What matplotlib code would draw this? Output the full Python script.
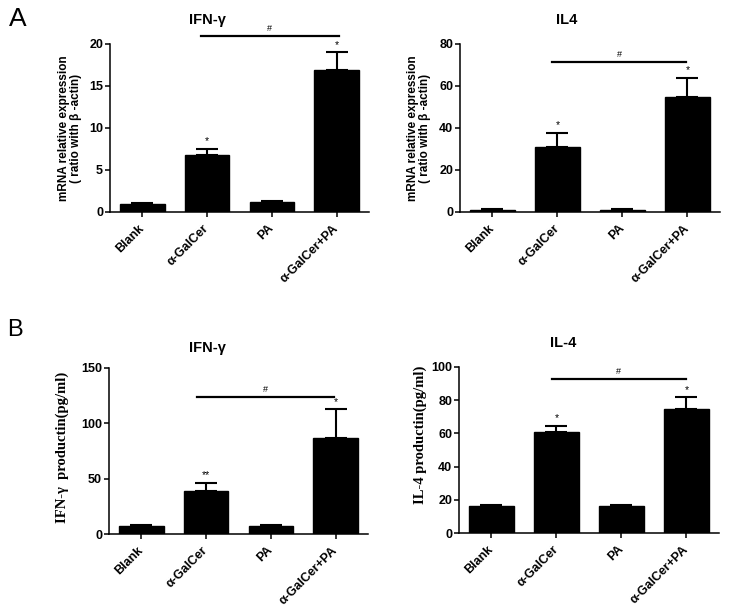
import matplotlib
matplotlib.use('Agg')
import matplotlib.pyplot as plt

plt.rcParams['font.family'] = ['Liberation Sans', 'DejaVu Sans']

# 数据
groups = ['Blank', 'α-GalCer', 'PA', 'α-GalCer+PA']

a_ifn_mean = [1.0, 6.8, 1.2, 16.9]
a_ifn_top = [1.05, 7.5, 1.35, 19.0]
a_il4_mean = [1.0, 31.0, 1.0, 54.7]
a_il4_top = [1.2, 37.8, 1.2, 63.8]
b_ifn_mean = [7.0, 39.0, 7.0, 87.0]
b_ifn_top = [8.5, 46.5, 8.5, 112.5]
b_il4_mean = [16.0, 61.0, 16.0, 74.8]
b_il4_top = [16.8, 64.6, 17.0, 81.7]

a_ifn_stars = ['', '*', '', '*']
a_il4_stars = ['', '*', '', '*']
b_ifn_stars = ['', '**', '', '*']
b_il4_stars = ['', '*', '', '*']

fig = plt.figure(figsize=(7.32, 6.15), dpi=100)


def draw_panel(rect, mean, top, stars, ymax, ystep, title, title_x, title_y,
               ylabel, ylabel_font, ylabel_size, ylabel_pos, sig):
    ax = fig.add_axes(rect)
    x = range(len(groups))
    err = [[0] * len(mean), [t - m for t, m in zip(top, mean)]]
    ax.bar(x, mean, width=0.69, color='black', edgecolor='black',
           yerr=err, capsize=8, error_kw=dict(elinewidth=1.5, capthick=1.5, ecolor='black'))
    for i, s in enumerate(stars):
        if s:
            ax.annotate(s, (i, top[i]), xytext=(0, 2), textcoords='offset points',
                        ha='center', va='bottom', fontsize=7.5)
    ax.set_xlim(-0.5, 3.5)
    ax.set_ylim(0, ymax)
    ax.set_yticks(range(0, ymax + 1, ystep))
    ax.set_xticks(list(x))
    ax.set_xticklabels(groups, rotation=45, ha='right', va='center', rotation_mode='anchor',
                       fontsize=9, fontweight='bold')
    for lab in ax.get_yticklabels():
        lab.set_fontsize(9)
        lab.set_fontweight('bold')
    ax.spines['top'].set_visible(False)
    ax.spines['right'].set_visible(False)
    ax.spines['left'].set_linewidth(1.1)
    ax.spines['bottom'].set_linewidth(1.1)
    ax.tick_params(axis='both', length=3.5, width=1.1)
    ax.tick_params(axis='y', pad=1.5)
    ax.tick_params(axis='x', pad=7)
    ax.set_ylabel(ylabel, fontsize=ylabel_size, family=ylabel_font,
                  fontweight='bold', linespacing=1.0)
    ax.yaxis.set_label_coords(*ylabel_pos)
    fig.text(title_x, title_y, title, ha='center', va='center',
             fontsize=10.5, fontweight='bold')
    # 显著性横线
    x0, x1, ysig = sig
    ax.plot([x0, x1], [ysig, ysig], color='black', lw=1.6, clip_on=False)
    ax.annotate('#', ((x0 + x1) / 2, ysig), xytext=(0, 2), textcoords='offset points',
                ha='center', va='bottom', fontsize=6.5, annotation_clip=False)
    return ax


draw_panel([0.1503, 0.6553, 0.3538, 0.2732], a_ifn_mean, a_ifn_top, a_ifn_stars, 20, 5,
           'IFN-γ', 207 / 732, 1 - 20 / 615,
           'mRNA relative expression\n( ratio with β -actin)', ['Liberation Sans', 'DejaVu Sans'], 8.5,
           (-0.11, 0.5), (0.91, 3.03, 20.95))
draw_panel([0.6284, 0.6553, 0.3552, 0.2732], a_il4_mean, a_il4_top, a_il4_stars, 80, 20,
           'IL4', 567 / 732, 1 - 20 / 615,
           'mRNA relative expression\n( ratio with β -actin)', ['Liberation Sans', 'DejaVu Sans'], 8.5,
           (-0.112, 0.5), (0.915, 2.98, 71.4))
draw_panel([0.1489, 0.1317, 0.3538, 0.270], b_ifn_mean, b_ifn_top, b_ifn_stars, 150, 50,
           'IFN-γ', 207 / 732, 1 - 348 / 615,
           'IFN-γ  productin(pg/ml)', ['Liberation Serif', 'DejaVu Serif'], 10.5,
           (-0.155, 0.52), (0.86, 2.97, 123.8))
draw_panel([0.6270, 0.1333, 0.3552, 0.270], b_il4_mean, b_il4_top, b_il4_stars, 100, 20,
           'IL-4', 563 / 732, 1 - 343 / 615,
           'IL-4 productin(pg/ml)', ['Liberation Serif', 'DejaVu Serif'], 10.5,
           (-0.123, 0.59), (0.93, 2.99, 92.8))

fig.text(18 / 732, 1 - 19 / 615, 'A', ha='center', va='center', fontsize=19,
         family=['Liberation Sans', 'DejaVu Sans'])
fig.text(15 / 732, 1 - 330 / 615, 'B', ha='center', va='center', fontsize=17,
         family=['Liberation Sans', 'DejaVu Sans'])

fig.savefig('out.png', dpi=100)
